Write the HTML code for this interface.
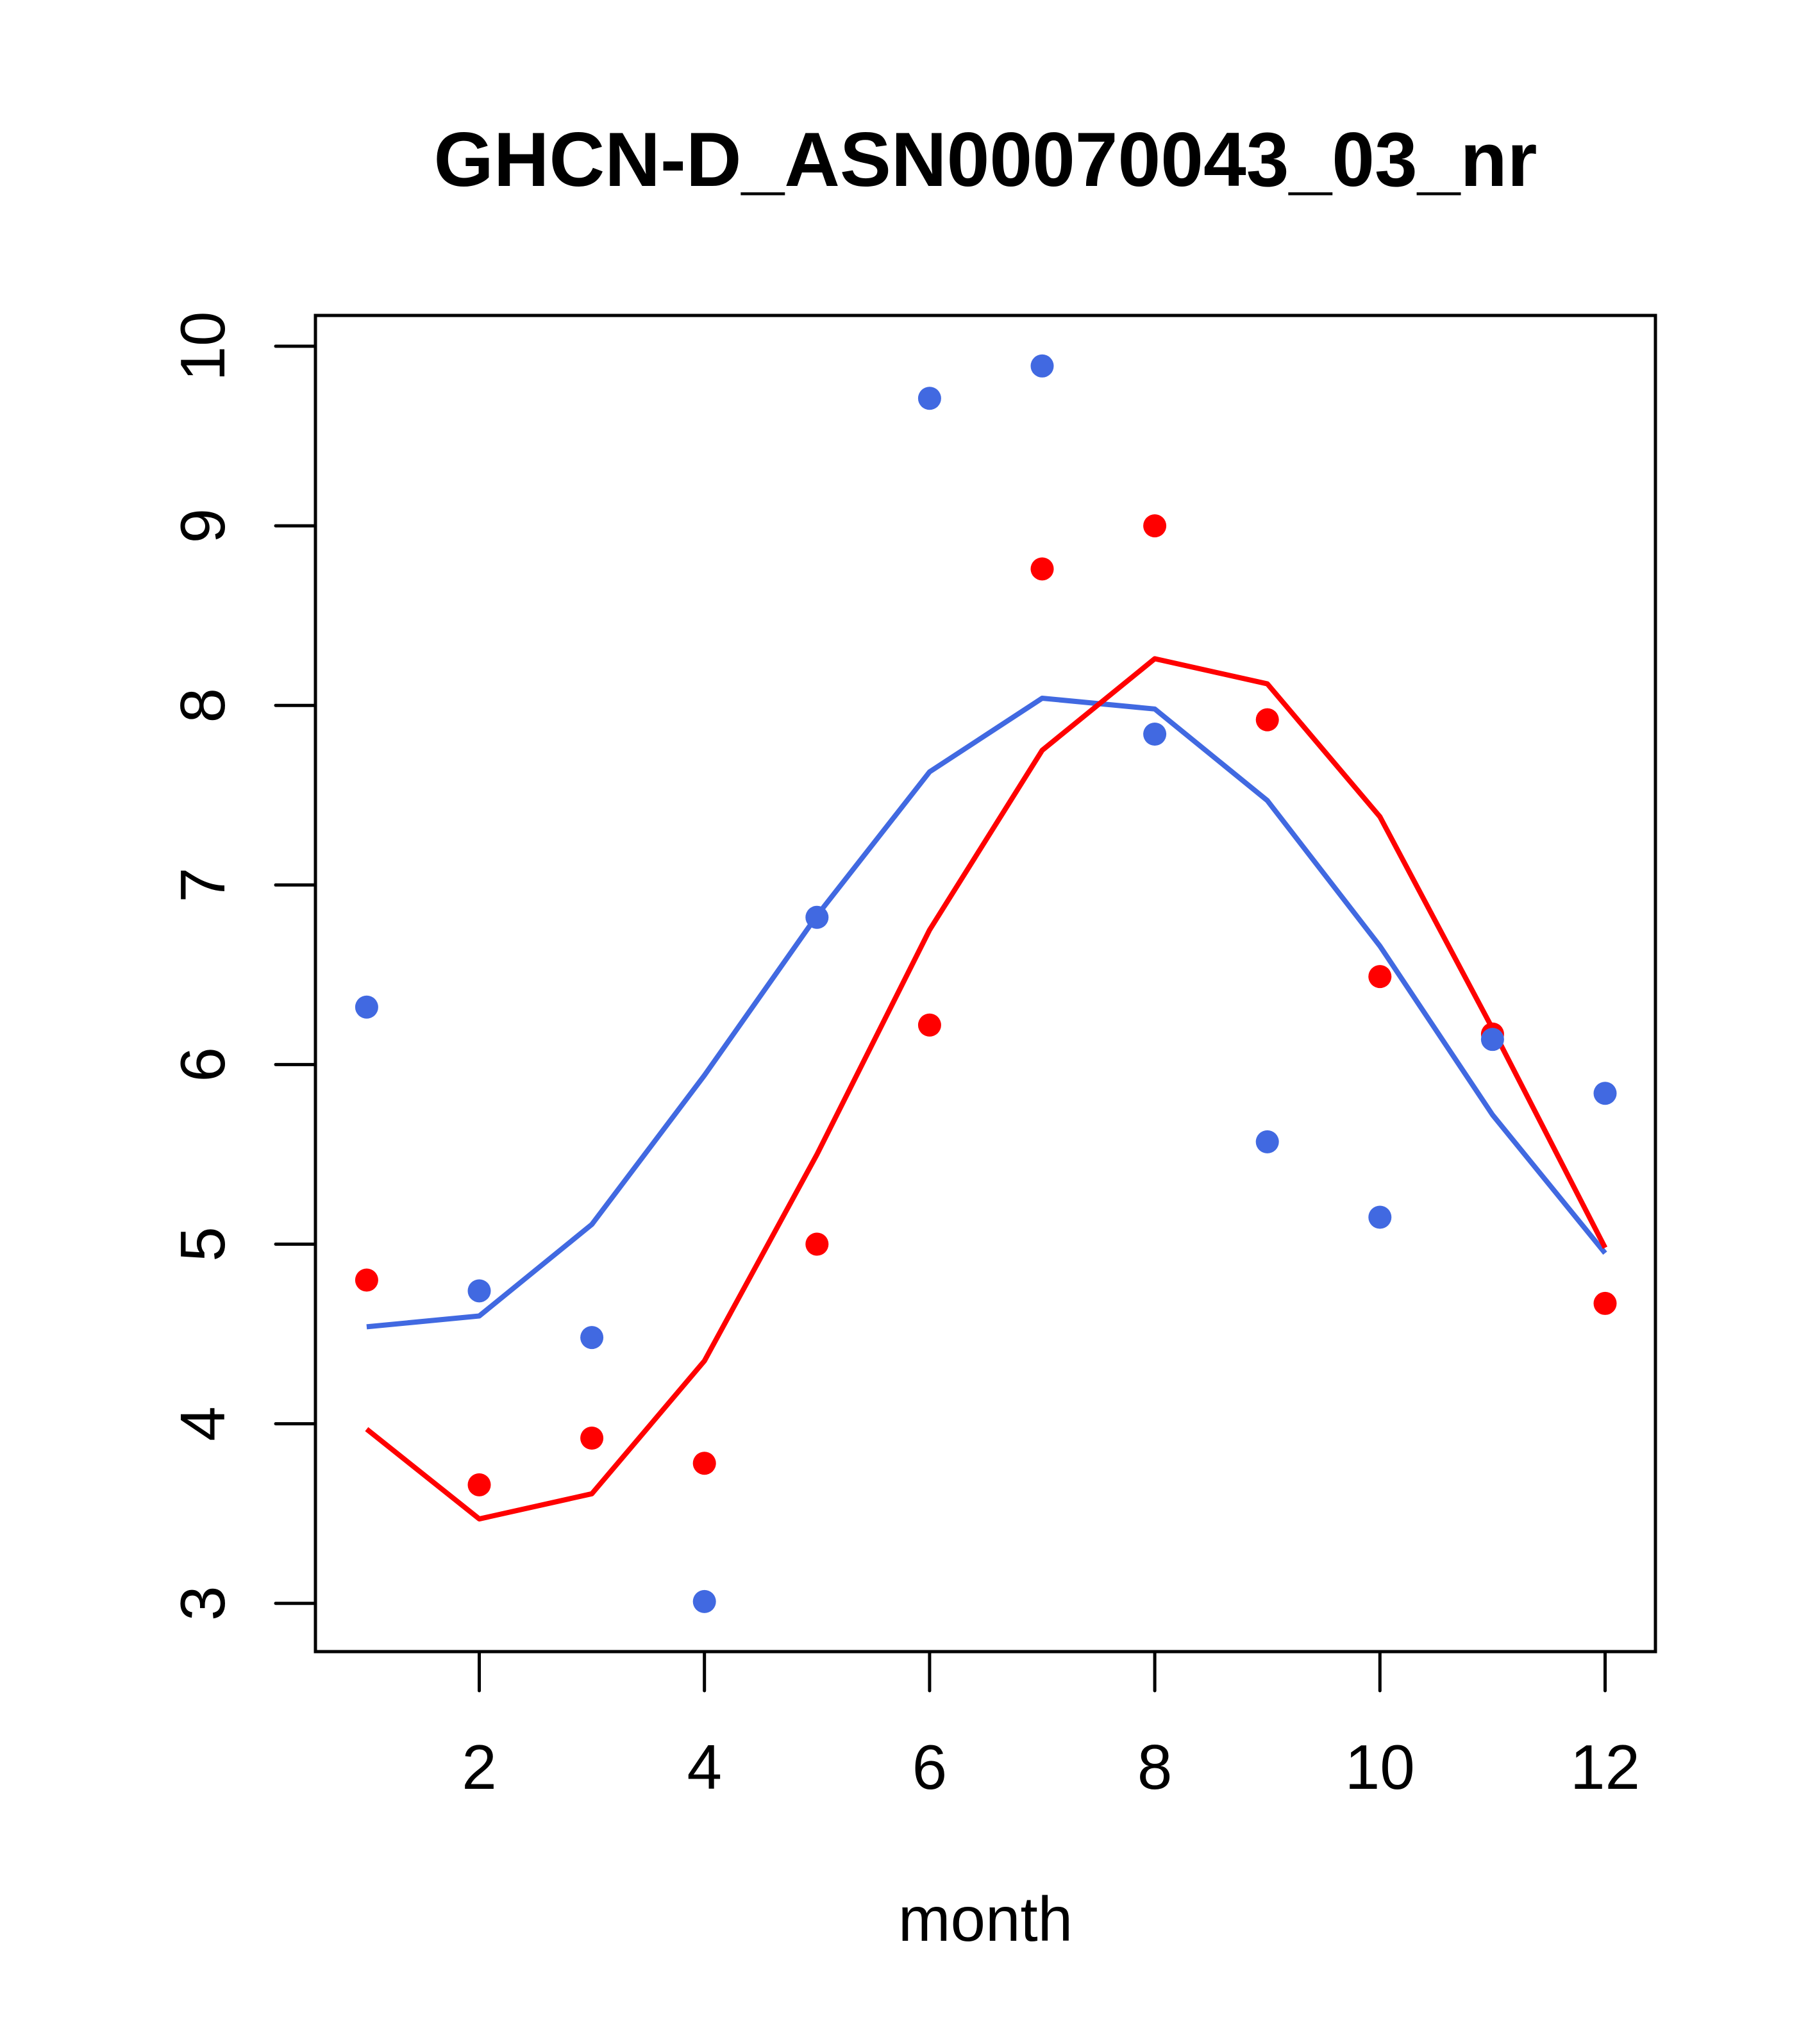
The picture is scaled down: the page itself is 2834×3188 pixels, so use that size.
<!DOCTYPE html>
<html><head><meta charset="utf-8"><style>
html,body{margin:0;padding:0;background:#fff}
svg{display:block}
text{font-family:"Liberation Sans",sans-serif}
</style></head><body>
<svg id="chart" width="2834" height="3188" viewBox="0 0 2834 3188" xmlns="http://www.w3.org/2000/svg">
<rect width="2834" height="3188" fill="#fff"/>
<text x="1537" y="290" font-size="120" font-weight="bold" text-anchor="middle">GHCN-D_ASN00070043_03_nr</text>
<g id="marks"></g>
<rect x="492" y="492" width="2090" height="2084" fill="none" stroke="#000" stroke-width="5"/>
<g id="axes"></g>
<text x="1537" y="3027" font-size="98" text-anchor="middle">month</text>
</svg>
<script>
const months=[1,2,3,4,5,6,7,8,9,10,11,12];
const redPoints=[4.8,3.66,3.92,3.78,5.0,6.22,8.76,9.0,7.92,6.49,6.17,4.67];
const bluePoints=[6.32,4.74,4.48,3.01,6.82,9.71,9.89,7.84,5.57,5.15,6.14,5.84];
const redLine=[3.97,3.47,3.61,4.35,5.5,6.75,7.75,8.26,8.12,7.38,6.2,4.98];
const blueLine=[4.54,4.6,5.11,5.94,6.83,7.63,8.04,7.98,7.47,6.66,5.72,4.95];
const xTicks=[2,4,6,8,10,12];
const yTicks=[3,4,5,6,7,8,9,10];
const NS="http://www.w3.org/2000/svg";
function xs(m){return 2503.5+(m-12)*175.6;}
function ys(v){return 540+(10-v)*280.1;}
const marks=document.getElementById('marks');
const axes=document.getElementById('axes');
function mk(tag,attrs,parent){const e=document.createElementNS(NS,tag);for(const k in attrs)e.setAttribute(k,attrs[k]);parent.appendChild(e);return e;}
function line(vals,color,name){
  const p=mk('polyline',{points:vals.map((v,i)=>xs(months[i])+','+ys(v)).join(' '),fill:'none',stroke:color,'stroke-width':8,'stroke-linejoin':'round'},marks);
  
  
}
function pts(vals,color,name){
  vals.forEach((v,i)=>{
    const c=mk('circle',{cx:xs(months[i]),cy:ys(v),r:18,fill:color},marks);
    
    
  });
}
line(blueLine,'#4169E1','blue-line');
line(redLine,'#FF0000','red-line');
pts(redPoints,'#FF0000','red-point');
pts(bluePoints,'#4169E1','blue-point');
xTicks.forEach(t=>{
  const l=mk('line',{x1:xs(t),x2:xs(t),y1:2576,y2:2637,stroke:'#000','stroke-width':5,'stroke-linecap':'round'},axes);
  
  
  const tx=mk('text',{x:xs(t),y:2790,'font-size':98,'text-anchor':'middle'},axes);
  tx.textContent=t;
  
  
});
yTicks.forEach(t=>{
  const l=mk('line',{x1:430,x2:492,y1:ys(t),y2:ys(t),stroke:'#000','stroke-width':5,'stroke-linecap':'round'},axes);
  
  
  const tx=mk('text',{x:0,y:0,'font-size':98,'text-anchor':'middle',transform:'translate(350,'+ys(t)+') rotate(-90)'},axes);
  tx.textContent=t;
  
  
});
</script>
</body></html>
